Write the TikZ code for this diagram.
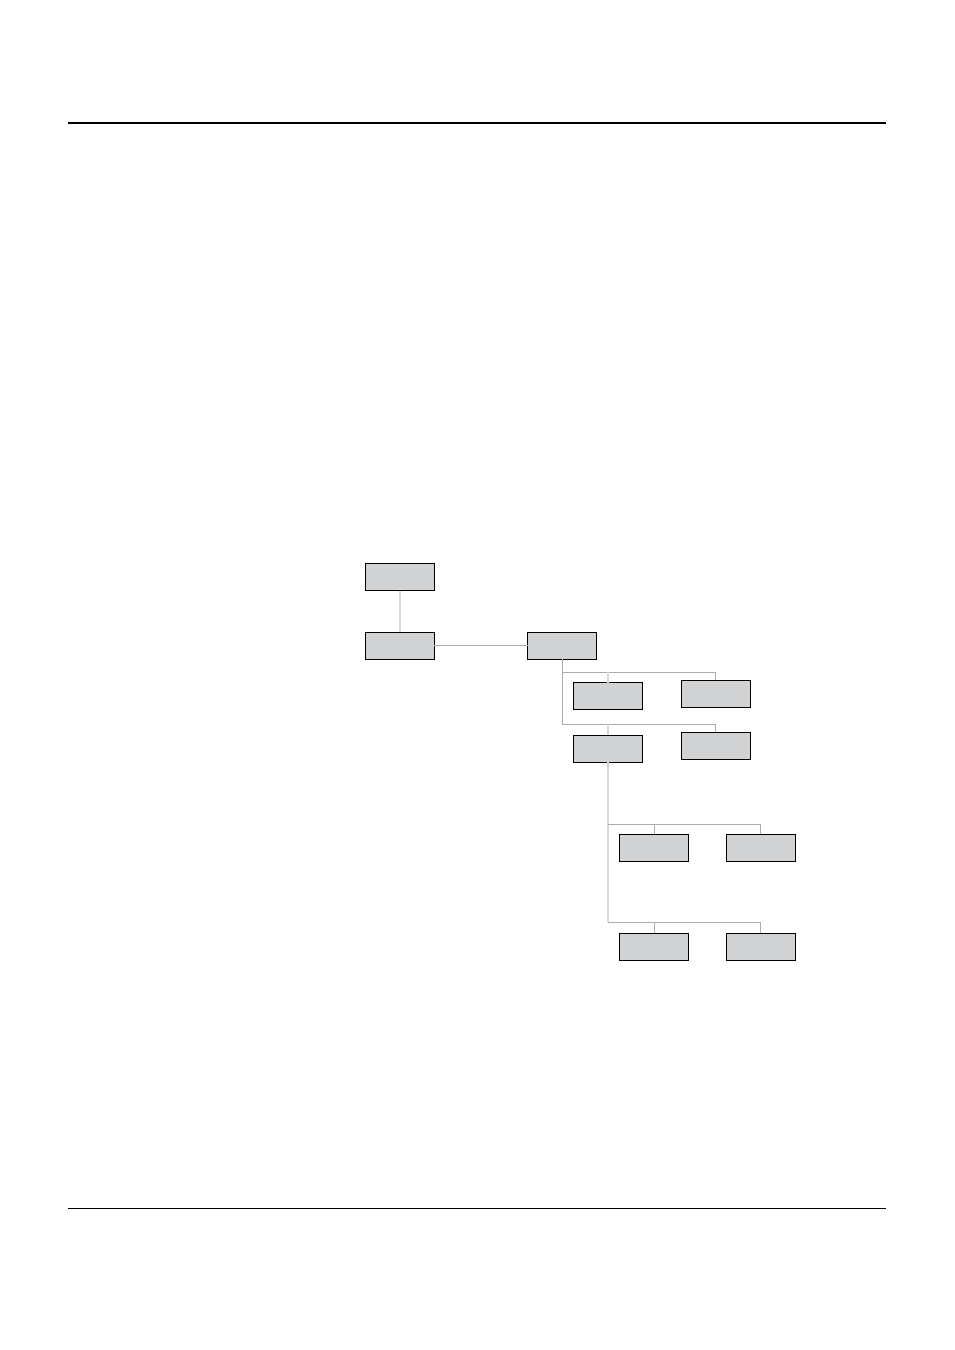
\documentclass[tikz,border=0pt]{standalone}
\begin{document}
\begin{tikzpicture}[x=1pt,y=-1pt,
  boxn/.style={draw=black,line width=1pt,fill=boxgray,minimum width=69pt,minimum height=27pt,inner sep=0pt,outer sep=0pt},
  linklight/.style={draw=gray!30,line width=1.6pt},
  linkmid/.style={draw=gray!65,line width=0.9pt},
  rulethick/.style={draw=black,line width=1.6pt},
  rulethin/.style={draw=black,line width=0.8pt}]
\definecolor{boxgray}{HTML}{D1D2D4}
\useasboundingbox (0,0) rectangle (954,1350);
\fill[white] (0,0) rectangle (954,1350);
% page rules
\coordinate (rt1) at (68,123);
\coordinate (rt2) at (886,123);
\coordinate (rb1) at (68,1208);
\coordinate (rb2) at (886,1208);
\draw[rulethick] (rt1) -- (rt2);
\draw[rulethin] (rb1) -- (rb2);
% boxes
\node[boxn] (A) at (399.8,577) {};
\node[boxn] (B) at (399.8,645.5) {};
\node[boxn] (C) at (562,645.5) {};
\node[boxn] (D) at (608,696.3) {};
\node[boxn] (E) at (715.8,693.8) {};
\node[boxn] (F) at (608,748.8) {};
\node[boxn] (G) at (715.8,745.8) {};
\node[boxn] (H) at (654,847.6) {};
\node[boxn] (I) at (760.8,847.6) {};
\node[boxn] (J) at (654,946.6) {};
\node[boxn] (K) at (760.8,946.6) {};
% junctions
\coordinate (j1) at (562,672.3);
\coordinate (j2) at (562,724);
\coordinate (j3) at (608,824);
\coordinate (j4) at (608,922.3);
% connectors
\begin{scope}[on background layer/.style={}]
\draw[linklight] (A.south) -- (B.north);
\draw[linkmid] (B.east) -- (C.west);
\draw[linkmid] (C.south) -- (j2);
\draw[linkmid] (j1) -- (E.north |- j1) -- (E.north);
\draw[linklight] (D.north |- j1) -- (D.north);
\draw[linkmid] (j2) -- (G.north |- j2) -- (G.north);
\draw[linklight] (F.north |- j2) -- (F.north);
\draw[linklight] (F.south) -- (j4);
\draw[linkmid] (j3) -- (I.north |- j3) -- (I.north);
\draw[linkmid] (H.north |- j3) -- (H.north);
\draw[linkmid] (j4) -- (K.north |- j4) -- (K.north);
\draw[linkmid] (J.north |- j4) -- (J.north);
\end{scope}
\end{tikzpicture}
\end{document}
